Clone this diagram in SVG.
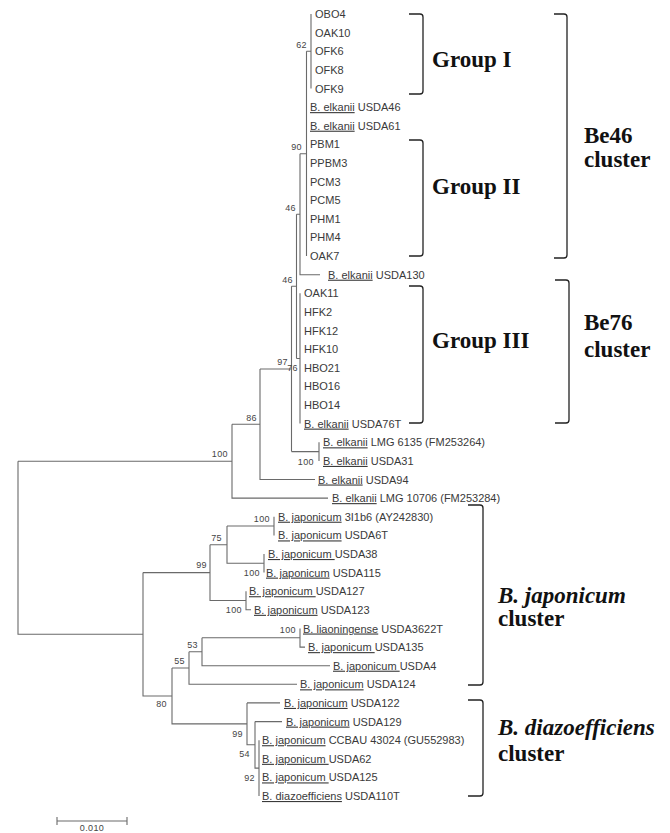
<svg xmlns="http://www.w3.org/2000/svg" width="670" height="833" viewBox="0 0 670 833">
<style>
.leaf{font-family:"Liberation Sans",Arial,sans-serif;font-size:11px;fill:#3a3a3a}
.u{text-decoration:underline}
.bs{font-family:"Liberation Sans",Arial,sans-serif;font-size:9px;fill:#444;text-anchor:end;letter-spacing:0.4px}
.tree{fill:none;stroke:#6a6a6a;stroke-width:1.1}
.br{fill:none;stroke:#222;stroke-width:1.3}
.big{font-family:"Liberation Serif","Times New Roman",serif;font-weight:bold;font-size:23px;fill:#111}
.it{font-style:italic}
</style>
<rect width="670" height="833" fill="#fff"/>
<g id="connectors">
<path class="tree" d="M311,14 V88.5 M306.5,51.3 H311
M306.5,51.3 V256.1 M300,153.7 H306.5
M300,153.7 V274.7 H320 M296.5,214.2 H300
M300,293.3 V423.6 M296.5,358.5 H300
M296.5,214.2 V358.5 M291.5,286.3 H296.5
M319,442.3 V460.9 M291.5,451.6 H319
M291.5,286.3 V451.6 M260,369 H291.5
M260,369 V479.5 H315 M232,424.2 H260
M232,424.2 V498.1 H328 M18,461.2 H232
M18,461.2 V634.3 H143
M143,572.6 V696 H172
M143,572.6 H210 M210,544.7 V600.5 H246
M210,544.7 H227 M227,526 V563.3 H264
M227,526 H274 M274,516.7 V535.4
M264,554 V572.6
M246,591.2 V609.8 H251
M172,668 V723.9 H247
M172,668 H189 M189,651.7 V684.3 H297
M189,651.7 H202 M202,637.8 V665.7 H330
M202,637.8 H300 M300,628.5 V647.1 H305
M247,702.9 V744.8 H255 M247,702.9 H280
M255,721.6 H282 M255,721.6 V768.1 H259
M259,740.2 V796"/>
<path class="tree" d="M57,821 H127 M57,817 V825 M127,817 V825"/>
</g>
<g id="bootstrap">
<text class="bs" x="307" y="48">62</text>
<text class="bs" x="302" y="150">90</text>
<text class="bs" x="296" y="211">46</text>
<text class="bs" x="293" y="283">46</text>
<text class="bs" x="288" y="365">97</text>
<text class="bs" x="298" y="371">76</text>
<text class="bs" x="257" y="421">86</text>
<text class="bs" x="314" y="465">100</text>
<text class="bs" x="228" y="457">100</text>
<text class="bs" x="270" y="522">100</text>
<text class="bs" x="222" y="541">75</text>
<text class="bs" x="207" y="568">99</text>
<text class="bs" x="260" y="576">100</text>
<text class="bs" x="242" y="613">100</text>
<text class="bs" x="296" y="633">100</text>
<text class="bs" x="198" y="648">53</text>
<text class="bs" x="185" y="664">55</text>
<text class="bs" x="167" y="707">80</text>
<text class="bs" x="243" y="737">99</text>
<text class="bs" x="250" y="757">54</text>
<text class="bs" x="255" y="781">92</text>
</g>
<g id="leaf-OBO4"><text class="leaf" x="315" y="18">OBO4</text></g>
<g id="leaf-OAK10"><text class="leaf" x="315" y="36.6">OAK10</text></g>
<g id="leaf-OFK6"><text class="leaf" x="315" y="55.2">OFK6</text></g>
<g id="leaf-OFK8"><text class="leaf" x="315" y="73.9">OFK8</text></g>
<g id="leaf-OFK9"><text class="leaf" x="315" y="92.5">OFK9</text></g>
<g id="leaf-USDA46"><text class="leaf" x="310" y="111.1"><tspan class="u">B. elkanii</tspan> USDA46</text></g>
<g id="leaf-USDA61"><text class="leaf" x="310" y="129.7"><tspan class="u">B. elkanii</tspan> USDA61</text></g>
<g id="leaf-PBM1"><text class="leaf" x="310" y="148.3">PBM1</text></g>
<g id="leaf-PPBM3"><text class="leaf" x="310" y="167">PPBM3</text></g>
<g id="leaf-PCM3"><text class="leaf" x="310" y="185.6">PCM3</text></g>
<g id="leaf-PCM5"><text class="leaf" x="310" y="204.2">PCM5</text></g>
<g id="leaf-PHM1"><text class="leaf" x="310" y="222.8">PHM1</text></g>
<g id="leaf-PHM4"><text class="leaf" x="310" y="241.4">PHM4</text></g>
<g id="leaf-OAK7"><text class="leaf" x="310" y="260.1">OAK7</text></g>
<g id="leaf-USDA130"><text class="leaf" x="328" y="278.7"><tspan class="u">B. elkanii</tspan> USDA130</text></g>
<g id="leaf-OAK11"><text class="leaf" x="304" y="297.3">OAK11</text></g>
<g id="leaf-HFK2"><text class="leaf" x="304" y="315.9">HFK2</text></g>
<g id="leaf-HFK12"><text class="leaf" x="304" y="334.5">HFK12</text></g>
<g id="leaf-HFK10"><text class="leaf" x="304" y="353.2">HFK10</text></g>
<g id="leaf-HBO21"><text class="leaf" x="304" y="371.8">HBO21</text></g>
<g id="leaf-HBO16"><text class="leaf" x="304" y="390.4">HBO16</text></g>
<g id="leaf-HBO14"><text class="leaf" x="304" y="409">HBO14</text></g>
<g id="leaf-USDA76T"><text class="leaf" x="304" y="427.6"><tspan class="u">B. elkanii</tspan> USDA76T</text></g>
<g id="leaf-LMG6135"><text class="leaf" x="323" y="446.3"><tspan class="u">B. elkanii</tspan> LMG 6135 (FM253264)</text></g>
<g id="leaf-USDA31"><text class="leaf" x="323" y="464.9"><tspan class="u">B. elkanii</tspan> USDA31</text></g>
<g id="leaf-USDA94"><text class="leaf" x="318" y="483.5"><tspan class="u">B. elkanii</tspan> USDA94</text></g>
<g id="leaf-LMG10706"><text class="leaf" x="332" y="502.1"><tspan class="u">B. elkanii</tspan> LMG 10706 (FM253284)</text></g>
<g id="leaf-3I1b6"><text class="leaf" x="278" y="520.7"><tspan class="u">B. japonicum</tspan> 3I1b6 (AY242830)</text></g>
<g id="leaf-USDA6T"><text class="leaf" x="278" y="539.4"><tspan class="u">B. japonicum</tspan> USDA6T</text></g>
<g id="leaf-USDA38"><text class="leaf" x="268" y="558"><tspan class="u">B. japonicum </tspan>USDA38</text></g>
<g id="leaf-USDA115"><text class="leaf" x="266" y="576.6"><tspan class="u">B. japonicum</tspan> USDA115</text></g>
<g id="leaf-USDA127"><text class="leaf" x="249" y="595.2"><tspan class="u">B. japonicum </tspan>USDA127</text></g>
<g id="leaf-USDA123"><text class="leaf" x="254" y="613.8"><tspan class="u">B. japonicum</tspan> USDA123</text></g>
<g id="leaf-USDA3622T"><text class="leaf" x="303" y="632.5"><tspan class="u">B. liaoningense</tspan> USDA3622T</text></g>
<g id="leaf-USDA135"><text class="leaf" x="308" y="651.1"><tspan class="u">B. japonicum </tspan>USDA135</text></g>
<g id="leaf-USDA4"><text class="leaf" x="333" y="669.7"><tspan class="u">B. japonicum </tspan>USDA4</text></g>
<g id="leaf-USDA124"><text class="leaf" x="300" y="688.3"><tspan class="u">B. japonicum</tspan> USDA124</text></g>
<g id="leaf-USDA122"><text class="leaf" x="284" y="706.9"><tspan class="u">B. japonicum</tspan> USDA122</text></g>
<g id="leaf-USDA129"><text class="leaf" x="286" y="725.6"><tspan class="u">B. japonicum</tspan> USDA129</text></g>
<g id="leaf-CCBAU43024"><text class="leaf" x="262" y="744.2"><tspan class="u">B. japonicum</tspan> CCBAU 43024 (GU552983)</text></g>
<g id="leaf-USDA62"><text class="leaf" x="262" y="762.8"><tspan class="u">B. japonicum </tspan>USDA62</text></g>
<g id="leaf-USDA125"><text class="leaf" x="262" y="781.4"><tspan class="u">B. japonicum </tspan>USDA125</text></g>
<g id="leaf-USDA110T"><text class="leaf" x="262" y="800"><tspan class="u">B. diazoefficiens</tspan> USDA110T</text></g>
<g id="scale"><text class="bs" x="92" y="831" style="text-anchor:middle">0.010</text></g>
<g id="group-I">
<path class="br" d="M409,14 H420 Q423,14 423,17 V91 Q423,94 420,94 H409"/>
<text class="big" x="432" y="67">Group I</text>
</g>
<g id="group-II">
<path class="br" d="M409,140 H420 Q423,140 423,143 V253 Q423,256 420,256 H409"/>
<text class="big" x="432" y="194">Group II</text>
</g>
<g id="group-III">
<path class="br" d="M409,286 H420 Q423,286 423,289 V420 Q423,423 420,423 H409"/>
<text class="big" x="432" y="348">Group III</text>
</g>
<g id="be46-cluster">
<path class="br" d="M554,14 H564 Q567,14 567,17 V255 Q567,258 564,258 H554"/>
<text class="big" x="584" y="143">Be46</text>
<text class="big" x="584" y="167">cluster</text>
</g>
<g id="be76-cluster">
<path class="br" d="M555,280 H566 Q569,280 569,283 V420 Q569,423 566,423 H555"/>
<text class="big" x="584" y="330">Be76</text>
<text class="big" x="584" y="357">cluster</text>
</g>
<g id="japonicum-cluster">
<path class="br" d="M468,505 H480 Q483,505 483,508 V682 Q483,685 480,685 H468"/>
<text class="big it" x="498" y="603">B. japonicum</text>
<text class="big" x="498" y="626">cluster</text>
</g>
<g id="diazoefficiens-cluster">
<path class="br" d="M468,700 H480 Q483,700 483,703 V793 Q483,796 480,796 H468"/>
<text class="big it" x="498" y="735">B. diazoefficiens</text>
<text class="big" x="498" y="761">cluster</text>
</g>
</svg>
